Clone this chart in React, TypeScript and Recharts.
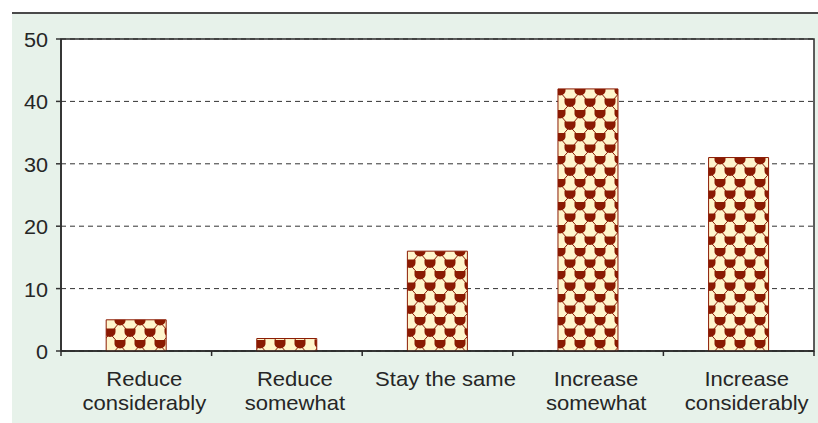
import React from "react";
import {
  BarChart,
  Bar,
  XAxis,
  YAxis,
  CartesianGrid,
  ReferenceArea,
  ReferenceLine,
} from "recharts";

const categories = [
  "Reduce\nconsiderably",
  "Reduce\nsomewhat",
  "Stay the same",
  "Increase\nsomewhat",
  "Increase\nconsiderably",
];
const values = [5, 2, 16, 42, 31];
const yTicks = [0, 10, 20, 30, 40, 50];
const boundaryTicks = [0, 1, 2, 3, 4, 5];

const data = categories.map((c, i) => ({ name: c, value: values[i], idx: i + 0.5 }));

const TEXT = "#262626";
const FONT = "'Liberation Sans', Arial, sans-serif";
const DARK_RED = "#8a1a02";
const CREAM = "#fff5cc";

const XTick = (props: any) => {
  const { x, y, payload } = props;
  const lines = String(payload.value).split("\n");
  return (
    <g transform={`translate(${x + 8},${y})`}>
      <g transform="scale(1.05,1)">
        <text textAnchor="middle" fill={TEXT} fontSize={21} fontFamily={FONT}>
          {lines.map((l, i) => (
            <tspan key={i} x={0} y={35 + i * 24}>
              {l}
            </tspan>
          ))}
        </text>
      </g>
    </g>
  );
};

const YTick = (props: any) => {
  const { x, y, payload } = props;
  return (
    <g transform={`translate(${x},${y})`}>
      <g transform="scale(1.03,1)">
        <text x={0} y={8} textAnchor="end" fill={TEXT} fontSize={21} fontFamily={FONT}>
          {payload.value}
        </text>
      </g>
    </g>
  );
};

const cup = (cx: number, cy: number) =>
  `M${cx - 5.5},${cy - 5} h11 v3.5 a5.5,5 0 0 1 -11,0 z`;

export default function App() {
  return (
    <div
      style={{
        position: "absolute",
        left: 0,
        top: 0,
        width: 818,
        height: 423,
        background: "#fff",
        overflow: "hidden",
      }}
    >
      <div
        style={{
          position: "absolute",
          left: 12,
          top: 12,
          width: 806,
          height: 2,
          background: "#4a4a4a",
        }}
      />
      <div
        style={{
          position: "absolute",
          left: 12,
          top: 14,
          width: 806,
          height: 409,
          background: "#e7f2ea",
        }}
      />
      <svg width={0} height={0} style={{ position: "absolute" }}>
        <defs>
          <pattern id="cupPattern" patternUnits="userSpaceOnUse" width={20} height={23}>
            <rect x={0} y={0} width={20} height={23} fill={CREAM} />
            <line x1={0} y1={0} x2={20} y2={23} stroke={DARK_RED} strokeWidth={1} />
            <line x1={20} y1={0} x2={0} y2={23} stroke={DARK_RED} strokeWidth={1} />
            <path d={cup(10, 11.5)} fill={DARK_RED} />
            <path d={cup(0, 0)} fill={DARK_RED} />
            <path d={cup(20, 0)} fill={DARK_RED} />
            <path d={cup(0, 23)} fill={DARK_RED} />
            <path d={cup(20, 23)} fill={DARK_RED} />
          </pattern>
        </defs>
      </svg>
      <div style={{ position: "absolute", left: 0, top: 0 }}>
        <BarChart
          width={818}
          height={423}
          data={data}
          margin={{ top: 39, right: 4, left: 0, bottom: 0 }}
          barCategoryGap="30%"
        >
          <CartesianGrid
            xAxisId="cat"
            vertical={false}
            stroke="#333"
            strokeDasharray="5 4"
            fill="#fff"
            fillOpacity={1}
          />
          <XAxis
            xAxisId="b"
            type="number"
            dataKey="idx"
            domain={[0, 5]}
            ticks={boundaryTicks}
            height={0}
            hide
          />
          <XAxis
            xAxisId="cat"
            dataKey="name"
            height={72}
            axisLine={{ stroke: "#2a2a2a", strokeWidth: 1.5 }}
            tickLine={false}
            tickSize={0}
            tickMargin={0}
            tick={<XTick />}
            interval={0}
          />
          <YAxis
            domain={[0, 50]}
            ticks={yTicks}
            width={61}
            axisLine={{ stroke: "#2a2a2a", strokeWidth: 1.5 }}
            tickLine={{ stroke: "#333", strokeWidth: 1.5 }}
            tickSize={5}
            tickMargin={8}
            tick={<YTick />}
            interval={0}
          />
          <Bar
            xAxisId="cat"
            dataKey="value"
            fill="url(#cupPattern)"
            stroke={DARK_RED}
            strokeWidth={1}
            isAnimationActive={false}
          />
          <ReferenceArea
            xAxisId="b"
            x1={0}
            x2={5}
            y1={0}
            y2={50}
            fill="none"
            stroke="#2a2a2a"
            strokeWidth={1.5}
            fillOpacity={0}
          />
          {boundaryTicks.map((t) => (
            <ReferenceLine
              key={t}
              xAxisId="b"
              segment={[
                { x: t, y: 0 },
                { x: t, y: -0.8 },
              ]}
              stroke="#2a2a2a"
              strokeWidth={1.5}
              ifOverflow="visible"
            />
          ))}
        </BarChart>
      </div>
    </div>
  );
}
